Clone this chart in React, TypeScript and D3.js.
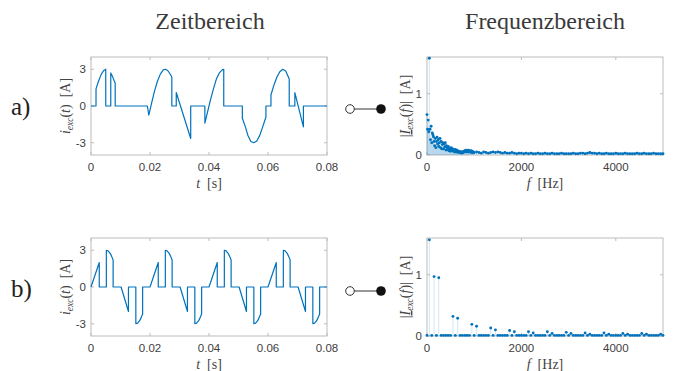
import * as d3 from "d3";

const W = 681;
const H = 371;
const BLUE = "#0072bd";
const SERIF = "'Liberation Serif', 'DejaVu Serif', serif";
const SANS = "'Liberation Sans', Arial, sans-serif";

// a) time signal, [t in ms, i in A]
const waveA: [number, number][] = [
  [0, 0], [1.7, 0], [1.7, 1.4], [2.5, 2.0], [3.5, 2.6], [4.3, 2.9], [5.0, 3.0], [5.0, 0],
  [6.7, 0], [6.7, 2.7], [7.3, 2.4], [8.2, 1.85], [8.2, 0],
  [19.1, 0], [19.6, -0.75], [20.5, 0.2], [21.5, 1.2], [22.5, 2.0], [23.5, 2.6], [24.5, 2.95],
  [25.2, 3.0], [26.0, 2.9], [27.0, 2.55], [27.4, 2.35], [27.4, 0],
  [28.9, 0], [28.9, 1.1], [33.8, -2.65], [33.8, 0],
  [38.6, 0], [38.6, -1.4], [39.5, -0.5], [40.5, 0.5], [41.5, 1.4], [42.5, 2.2], [43.5, 2.7],
  [44.5, 2.95], [45.0, 3.0], [45.0, 0],
  [51.3, 0], [51.3, -1.0], [52.2, -1.6], [53.2, -2.4], [54.2, -2.9], [55.2, -3.0], [56.2, -2.85],
  [57.2, -2.4], [58.2, -1.7], [59.3, -0.9], [59.3, 0],
  [61.0, 0], [61.0, 0.9], [62.0, 1.7], [63.0, 2.35], [64.0, 2.8], [65.0, 3.0], [66.0, 2.85],
  [67.2, 2.2], [67.2, 0],
  [69.1, 0], [69.1, 1.1], [72.0, -1.7], [72.0, 0], [80, 0],
];

// b) time signal, [t in ms, i in A]
const waveB: [number, number][] = [
  [0, 0], [2.8, 2.0], [2.8, 0], [5.2, 0], [5.2, 3.0], [5.8, 2.95], [6.5, 2.75], [7.0, 2.5], [7.5, 2.2], [7.5, 0],
  [10.2, 0], [12.7, -2.0], [12.7, 0], [15.2, 0], [15.2, -3.0], [15.8, -2.95], [16.5, -2.75], [17.0, -2.5], [17.5, -2.2], [17.5, 0],
  [20, 0], [22.8, 2.0], [22.8, 0], [25.2, 0], [25.2, 3.0], [25.8, 2.95], [26.5, 2.75], [27.0, 2.5], [27.5, 2.2], [27.5, 0],
  [30.2, 0], [32.7, -2.0], [32.7, 0], [35.2, 0], [35.2, -3.0], [35.8, -2.95], [36.5, -2.75], [37.0, -2.5], [37.5, -2.2], [37.5, 0],
  [40, 0], [42.8, 2.0], [42.8, 0], [45.2, 0], [45.2, 3.0], [45.8, 2.95], [46.5, 2.75], [47.0, 2.5], [47.5, 2.2], [47.5, 0],
  [50.2, 0], [52.7, -2.0], [52.7, 0], [55.2, 0], [55.2, -3.0], [55.8, -2.95], [56.5, -2.75], [57.0, -2.5], [57.5, -2.2], [57.5, 0],
  [60, 0], [62.8, 2.0], [62.8, 0], [65.2, 0], [65.2, 3.0], [65.8, 2.95], [66.5, 2.75], [67.0, 2.5], [67.5, 2.2], [67.5, 0],
  [70.2, 0], [72.7, -2.0], [72.7, 0], [75.2, 0], [75.2, -3.0], [75.8, -2.95], [76.5, -2.75], [77.0, -2.5], [77.5, -2.2], [77.5, 0],
  [80, 0],
];

// a) spectrum: 0..987.5 Hz in 12.5 Hz steps
const specALowStep = 12.5;
const specALow = [
  0.66, 0.42, 0.57, 0.38, 1.58, 0.42, 0.25, 0.47, 0.2, 0.36,
  0.33, 0.3, 0.22, 0.15, 0.27, 0.12, 0.22, 0.29, 0.18, 0.25,
  0.14, 0.2, 0.27, 0.12, 0.22, 0.1, 0.17, 0.2, 0.1, 0.18,
  0.13, 0.2, 0.08, 0.15, 0.12, 0.09, 0.14, 0.07, 0.11, 0.09,
  0.06, 0.12, 0.08, 0.07, 0.1, 0.06, 0.08, 0.05, 0.09, 0.06,
  0.05, 0.08, 0.05, 0.06, 0.04, 0.06, 0.05, 0.04, 0.05, 0.03,
  0.05, 0.04, 0.06, 0.05, 0.07, 0.06, 0.08, 0.05, 0.07, 0.06,
  0.08, 0.05, 0.07, 0.06, 0.05, 0.07, 0.04, 0.06, 0.05, 0.04,
];
// a) spectrum: 1000..5000 Hz in 50 Hz steps
const specAHighStart = 1000;
const specAHighStep = 50;
const specAHigh = [
  0.04, 0.05, 0.04, 0.03, 0.05, 0.04, 0.03, 0.04, 0.05, 0.04, 0.05,
  0.04, 0.03, 0.04, 0.03, 0.03, 0.04, 0.03, 0.02, 0.03, 0.03,
  0.02, 0.03, 0.02, 0.03, 0.02, 0.02, 0.03, 0.02, 0.02, 0.03,
  0.02, 0.02, 0.03, 0.02, 0.02, 0.02, 0.03, 0.02, 0.02, 0.02,
  0.02, 0.03, 0.02, 0.02, 0.03, 0.03, 0.02, 0.03, 0.04, 0.03,
  0.03, 0.02, 0.03, 0.02, 0.02, 0.03, 0.02, 0.02, 0.02, 0.03,
  0.02, 0.02, 0.02, 0.03, 0.02, 0.02, 0.02, 0.02, 0.03, 0.02,
  0.02, 0.03, 0.02, 0.02, 0.02, 0.03, 0.02, 0.02, 0.02, 0.02,
];

// b) spectrum: 0..5000 Hz in 50 Hz steps
const specBStep = 50;
const specB = [
  0.01, 1.57, 0.01, 0.97, 0.01, 0.95, 0.01, 0.01, 0.01, 0.01,
  0.01, 0.32, 0.01, 0.29, 0.01, 0.01, 0.01, 0.01, 0.01, 0.19,
  0.01, 0.16, 0.01, 0.01, 0.01, 0.01, 0.01, 0.13, 0.01, 0.1,
  0.01, 0.01, 0.01, 0.01, 0.01, 0.09, 0.01, 0.07, 0.01, 0.01,
  0.01, 0.01, 0.01, 0.07, 0.01, 0.05, 0.01, 0.01, 0.01, 0.01,
  0.01, 0.07, 0.01, 0.04, 0.01, 0.01, 0.01, 0.01, 0.01, 0.06,
  0.01, 0.04, 0.01, 0.01, 0.01, 0.01, 0.01, 0.05, 0.01, 0.03,
  0.01, 0.01, 0.01, 0.01, 0.01, 0.05, 0.01, 0.03, 0.01, 0.01,
  0.01, 0.01, 0.01, 0.04, 0.01, 0.03, 0.01, 0.01, 0.01, 0.01,
  0.01, 0.04, 0.01, 0.03, 0.01, 0.01, 0.01, 0.01, 0.01, 0.03,
  0.01,
];

const tTicks = [0, 0.02, 0.04, 0.06, 0.08];
const iTicks = [-3, 0, 3];
const fTicks = [0, 2000, 4000];
const magTicks = [0, 1];

const LEFT = [91, 327];
const RIGHT = [427, 663];
const PH = 98;
const BOX = "#bcbcbc";
const TICKTXT = "#404040";
const NBSP = "\u00a0";

function Frame({ x, y, xt, yt, xfmt }: any) {
  const [x0, x1] = x.range();
  const [y1, y0] = y.range();
  return (
    <g>
      <rect x={x0} y={y0} width={x1 - x0} height={y1 - y0} fill="white" stroke={BOX} strokeWidth={1} />
      {xt.map((t: number) => (
        <g key={"x" + t}>
          <line x1={x(t)} x2={x(t)} y1={y1} y2={y1 - 3} stroke={BOX} />
          <line x1={x(t)} x2={x(t)} y1={y0} y2={y0 + 3} stroke={BOX} />
          <text x={x(t)} y={y1 + 16} textAnchor="middle" fontSize={11.5} fontFamily={SANS} fill={TICKTXT}>
            {xfmt(t)}
          </text>
        </g>
      ))}
      {yt.map((t: number) => (
        <g key={"y" + t}>
          <line x1={x0} x2={x0 + 3} y1={y(t)} y2={y(t)} stroke={BOX} />
          <line x1={x1} x2={x1 - 3} y1={y(t)} y2={y(t)} stroke={BOX} />
          <text x={x0 - 5} y={y(t) + 4} textAnchor="end" fontSize={11.5} fontFamily={SANS} fill={TICKTXT}>
            {t}
          </text>
        </g>
      ))}
    </g>
  );
}

function TimePlot({ data, top }: { data: [number, number][]; top: number }) {
  const x = d3.scaleLinear().domain([0, 0.08]).range(LEFT);
  const y = d3.scaleLinear().domain([-4, 4]).range([top + PH, top]);
  const line = d3
    .line<[number, number]>()
    .x((d) => x(d[0] / 1000))
    .y((d) => y(d[1]));
  const cy = top + PH / 2;
  return (
    <g>
      <Frame x={x} y={y} xt={tTicks} yt={iTicks} xfmt={(t: number) => (t === 0 ? "0" : d3.format(".2f")(t))} />
      <path d={line(data) || undefined} fill="none" stroke={BLUE} strokeWidth={1.2} strokeLinejoin="round" />
      <text transform={`translate(70,${cy}) rotate(-90)`} textAnchor="middle" fontFamily={SERIF} fontSize={14} fill="#444">
        <tspan fontStyle="italic">i</tspan>
        <tspan fontStyle="italic" fontSize={9.5} dy={3}>exc</tspan>
        <tspan dy={-3}>(</tspan>
        <tspan fontStyle="italic">t</tspan>
        <tspan>{")" + NBSP + NBSP + "[A]"}</tspan>
      </text>
      <text x={(LEFT[0] + LEFT[1]) / 2} y={top + PH + 33} textAnchor="middle" fontFamily={SERIF} fontSize={14} fill="#444">
        <tspan fontStyle="italic">t</tspan>
        <tspan>{NBSP + NBSP + "[s]"}</tspan>
      </text>
    </g>
  );
}

function SpecPlot({ pts, top }: { pts: [number, number][]; top: number }) {
  const x = d3.scaleLinear().domain([0, 5000]).range(RIGHT);
  const y = d3.scaleLinear().domain([0, 1.6]).range([top + PH, top]);
  const cy = top + PH / 2;
  return (
    <g>
      <Frame x={x} y={y} xt={fTicks} yt={magTicks} xfmt={(t: number) => String(t)} />
      <g stroke={BLUE} strokeOpacity={0.3} strokeWidth={0.6}>
        {pts.map((d, i) => (
          <line key={i} x1={x(d[0])} x2={x(d[0])} y1={y(0)} y2={y(d[1])} />
        ))}
      </g>
      <g fill={BLUE}>
        {pts.map((d, i) => (
          <circle key={i} cx={x(d[0])} cy={y(d[1])} r={1.45} />
        ))}
      </g>
      <text transform={`translate(410,${cy}) rotate(-90)`} textAnchor="middle" fontFamily={SERIF} fontSize={14} fill="#444">
        <tspan>|</tspan>
        <tspan fontStyle="italic" textDecoration="underline">I</tspan>
        <tspan fontStyle="italic" fontSize={9.5} dy={3}>exc</tspan>
        <tspan dy={-3}>(</tspan>
        <tspan fontStyle="italic">f</tspan>
        <tspan>{")|" + NBSP + NBSP + "[A]"}</tspan>
      </text>
      <text x={(RIGHT[0] + RIGHT[1]) / 2} y={top + PH + 33} textAnchor="middle" fontFamily={SERIF} fontSize={14} fill="#444">
        <tspan fontStyle="italic">f</tspan>
        <tspan>{NBSP + NBSP + "[Hz]"}</tspan>
      </text>
    </g>
  );
}

function Connector({ cy }: { cy: number }) {
  return (
    <g>
      <line x1={354} x2={377} y1={cy} y2={cy} stroke="#333" strokeWidth={1} />
      <circle cx={350} cy={cy} r={4.3} fill="white" stroke="#333" strokeWidth={1} />
      <circle cx={381} cy={cy} r={4.8} fill="#111" />
    </g>
  );
}

export default function App() {
  const specA: [number, number][] = [
    ...specALow.map((v, i) => [i * specALowStep, v] as [number, number]),
    ...specAHigh.map((v, i) => [specAHighStart + i * specAHighStep, v] as [number, number]),
  ];
  const specBPts: [number, number][] = specB.map((v, i) => [i * specBStep, v]);
  const topA = 57;
  const topB = 238;
  return (
    <svg width={W} height={H} style={{ display: "block", position: "absolute", left: 0, top: 0 }}>
      <rect width={W} height={H} fill="white" />
      <text x={210} y={29} textAnchor="middle" fontFamily={SERIF} fontSize={24} fill="#3a3a3a">Zeitbereich</text>
      <text x={545} y={29} textAnchor="middle" fontFamily={SERIF} fontSize={24} fill="#3a3a3a">Frequenzbereich</text>
      <text x={11} y={115} fontFamily={SERIF} fontSize={25} fill="#222">a)</text>
      <text x={11} y={297} fontFamily={SERIF} fontSize={25} fill="#222">b)</text>
      <TimePlot data={waveA} top={topA} />
      <TimePlot data={waveB} top={topB} />
      <SpecPlot pts={specA} top={topA} />
      <SpecPlot pts={specBPts} top={topB} />
      <Connector cy={109} />
      <Connector cy={291} />
    </svg>
  );
}
